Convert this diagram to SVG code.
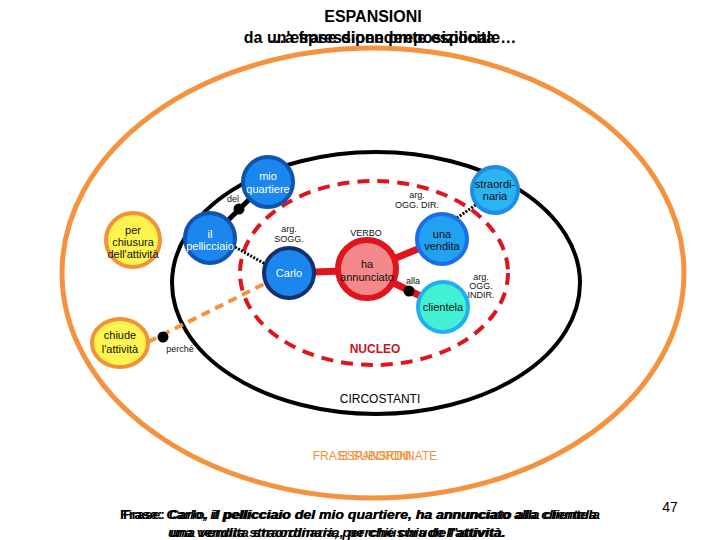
<svg xmlns="http://www.w3.org/2000/svg" width="720" height="540" viewBox="0 0 720 540">
<style>
text{font-family:"Liberation Sans",Arial,sans-serif}
.lbl{font-size:11px;text-anchor:middle;fill:#fff}
.dk{fill:#111}
.sm{font-size:9px;text-anchor:middle;fill:#111}
.blue{fill:#1a86ee;stroke:#0d55b0;stroke-width:4}
.yel{fill:#fff44f;stroke:#f0923a;stroke-width:4}
.dot{fill:#000}
</style>
<rect width="720" height="540" fill="#fff"/>
<ellipse cx="373" cy="273" rx="311" ry="225" fill="none" stroke="#f5923e" stroke-width="5"/>
<ellipse cx="376" cy="283" rx="204" ry="131" fill="none" stroke="#000" stroke-width="4"/>
<ellipse cx="374" cy="273" rx="134" ry="92" fill="none" stroke="#e0141c" stroke-width="4" stroke-dasharray="12 8"/>
<text x="373" y="22" font-size="16" font-weight="bold" text-anchor="middle">ESPANSIONI</text>
<text x="380" y="43" font-size="16" font-weight="bold" text-anchor="middle">da un'espressione preposizionale…</text>
<text x="382" y="43" font-size="16" font-weight="bold" text-anchor="middle">…a frase dipendente esplicita</text>
<g id="connectors">
<line x1="210" y1="238" x2="268" y2="181" stroke="#000" stroke-width="5"/>
<line x1="235" y1="247" x2="267" y2="265" stroke="#000" stroke-width="3" stroke-dasharray="2 1.5"/>
<line x1="454" y1="220" x2="477" y2="204" stroke="#000" stroke-width="3" stroke-dasharray="2 1.5"/>
<line x1="289" y1="273" x2="367" y2="270" stroke="#e0141c" stroke-width="7"/>
<line x1="367" y1="270" x2="442" y2="239" stroke="#e0141c" stroke-width="7"/>
<line x1="367" y1="270" x2="443" y2="307" stroke="#e0141c" stroke-width="7"/>
<line x1="148" y1="342" x2="266" y2="283" stroke="#f5923e" stroke-width="4" stroke-dasharray="9 6"/>
<circle class="dot" cx="239" cy="209" r="5.5"/>
<circle class="dot" cx="409" cy="291" r="5.5"/>
<circle class="dot" cx="163" cy="337" r="5.5"/>
</g>
<g id="mioquartiere"><circle class="blue" cx="268" cy="182" r="25"/><text class="lbl" x="268" y="180">mio</text><text class="lbl" x="268" y="193">quartiere</text></g>
<g id="pellicciaio"><circle class="blue" cx="210" cy="238" r="25" stroke="#0c4a9a"/><text class="lbl" x="210" y="238">il</text><text class="lbl" x="210" y="250">pellicciaio</text></g>
<g id="carlo"><circle cx="289" cy="273" r="25" fill="#1a86ee" stroke="#15306a" stroke-width="4"/><text class="lbl" x="289" y="277">Carlo</text></g>
<g id="verbo"><circle cx="367" cy="269" r="29" fill="#f4888a" stroke="#e0141c" stroke-width="6"/><text class="lbl dk" x="367" y="268">ha</text><text class="lbl dk" x="367" y="281">annunciato</text></g>
<g id="vendita"><circle cx="442" cy="239" r="25" fill="#22a0f2" stroke="#1a6fe6" stroke-width="4"/><text class="lbl dk" x="442" y="238">una</text><text class="lbl dk" x="442" y="250">vendita</text></g>
<g id="straordinaria"><circle cx="495" cy="190" r="23" fill="#2ab4f2" stroke="#1d8de6" stroke-width="4"/><text class="lbl dk" x="495" y="188">straordi-</text><text class="lbl dk" x="495" y="200">naria</text></g>
<g id="clientela"><circle cx="443" cy="307" r="25" fill="#44f0d2" stroke="#22aef0" stroke-width="4"/><text class="lbl dk" x="443" y="311">clientela</text></g>
<g id="perchiusura"><circle class="yel" cx="133" cy="240" r="27"/><text class="lbl dk" x="133" y="234">per</text><text class="lbl dk" x="133" y="246">chiusura</text><text class="lbl dk" x="133" y="258">dell'attività</text></g>
<g id="chiude"><ellipse class="yel" cx="120" cy="343" rx="28" ry="24"/><text class="lbl dk" x="120" y="339">chiude</text><text class="lbl dk" x="120" y="353">l'attività</text></g>
<g id="labels">
<text class="sm" x="233" y="202" font-size="10">del</text>
<text class="sm" x="413" y="284" font-size="10">alla</text>
<text class="sm" x="180" y="352" font-size="10">perché</text>
<text class="sm" x="366" y="236">VERBO</text>
<text class="sm" x="289" y="232">arg.</text><text class="sm" x="289" y="242">SOGG.</text>
<text class="sm" x="417" y="198">arg.</text><text class="sm" x="417" y="208">OGG. DIR.</text>
<text class="sm" x="481" y="280">arg.</text><text class="sm" x="481" y="289">OGG.</text><text class="sm" x="481" y="298">INDIR.</text>
<text x="375" y="353" font-size="12" font-weight="bold" fill="#c8141c" text-anchor="middle">NUCLEO</text>
<text x="380" y="403" font-size="12" fill="#000" text-anchor="middle">CIRCOSTANTI</text>
<text x="375" y="460" font-size="12" fill="#f0923a" text-anchor="middle">FRASI SUBORDINATE</text>
<text x="375" y="460" font-size="12" fill="#f0923a" text-anchor="middle">ESPANSIONI</text>
<text x="670" y="512" font-size="14" text-anchor="middle">47</text>
</g>
<g id="frase" font-size="12" font-weight="bold">
<text x="120" y="519" textLength="480" lengthAdjust="spacingAndGlyphs">Frase: <tspan font-style="italic">Carlo, il pellicciaio del mio quartiere, ha annunciato alla clientela</tspan></text>
<text x="123" y="519" textLength="474" lengthAdjust="spacingAndGlyphs">Frase: <tspan font-style="italic">Carlo, il pellicciaio del mio quartiere, ha annunciato alla clientela</tspan></text>
<text x="168" y="537" textLength="338" lengthAdjust="spacingAndGlyphs" font-style="italic">una vendita straordinaria, per chiusura dell'attività.</text>
<text x="170" y="537" textLength="335" lengthAdjust="spacingAndGlyphs" font-style="italic">una vendita straordinaria, perché chiude l'attività.</text>
</g>
</svg>
